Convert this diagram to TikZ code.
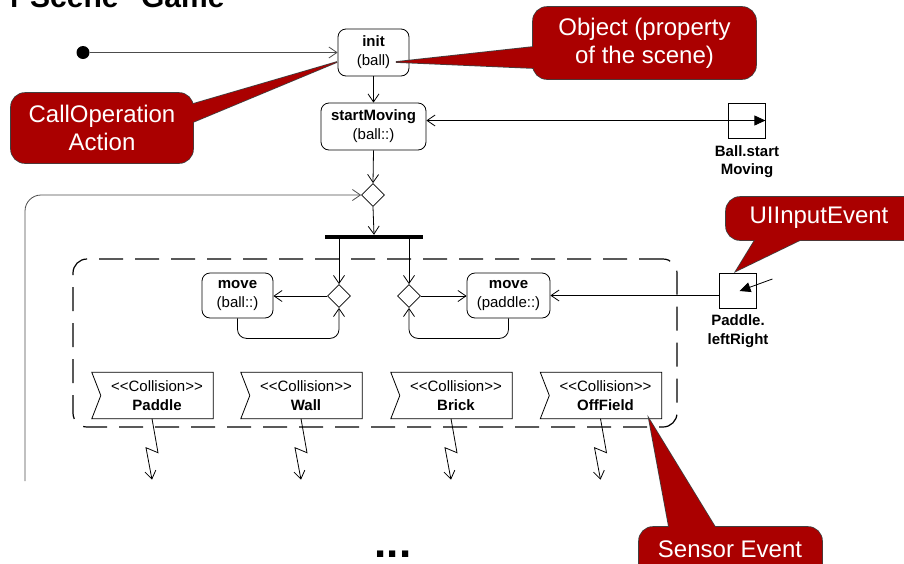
\documentclass[tikz,border=0pt]{standalone}
\usepackage{fontspec}
\setmainfont{Liberation Sans}[Ligatures=TeXOff]
\usetikzlibrary{arrows.meta,shapes.geometric,calc}
\definecolor{callred}{RGB}{170,0,0}
\begin{document}
\begin{tikzpicture}[x=1pt,y=-1pt,
  every node/.style={inner sep=0pt},
  action/.style={draw, rounded corners=8pt, line width=0.8pt, align=center,
    font=\fontsize{15}{19}\selectfont},
  dec/.style={draw, diamond, minimum width=23, minimum height=23, line width=0.8pt},
  flow/.style={line width=0.8pt, -{Straight Barb[length=8pt,width=11pt]}},
  greyflow/.style={flow, draw=black!70},
  pinbox/.style={draw, line width=0.8pt, minimum width=37, minimum height=35},
  pinlabel/.style={align=center, font=\fontsize{15}{18}\selectfont\bfseries},
  sigbox/.style={minimum width=112, minimum height=46, align=center,
    font=\fontsize{15}{19}\selectfont},
  calloutedge/.style={draw=black!75, line width=1.6pt},
  calloutfill/.style={fill=callred},
  callouttext/.style={text=white, align=center, font=\fontsize{24}{28}\selectfont},
  regionstyle/.style={draw, line width=1.2pt, dash pattern=on 24pt off 12pt, rounded corners=14pt}
]
\useasboundingbox (0,0) rectangle (904,563);

% title (cut at the top)
\node[font=\fontsize{30}{36}\selectfont\bfseries, anchor=base west] (title) at (10,7) {r Scene "Game"};

% nodes
\node[fill=black, circle, minimum size=13] (start) at (83,52.5) {};
\node[action, minimum width=71, minimum height=47] (init) at (373.5,52.5) {\textbf{init}\\(ball)};
\node[action, minimum width=105, minimum height=47] (sm) at (373.5,126.5) {\textbf{startMoving}\\(ball::)};
\node[pinbox] (bp) at (746.5,120.5) {};
\node[pinlabel] (bplabel) at (747,161.5) {Ball.start\\Moving};
\node[dec] (d1) at (373,195) {};
\node[fill=black, minimum width=98, minimum height=4] (bar) at (374,237) {};

\node[regionstyle, minimum width=604, minimum height=168] (region) at (375,343) {};

\node[dec] (dl) at (339,296) {};
\node[dec] (dr) at (409,296) {};
\node[action, minimum width=71, minimum height=45] (mb) at (237.5,295.5) {\textbf{move}\\(ball::)};
\node[action, minimum width=83, minimum height=45] (mp) at (508.5,295.5) {\textbf{move}\\(paddle::)};
\node[pinbox] (pp) at (737.5,290.5) {};
\node[pinlabel, font=\fontsize{15}{19}\selectfont\bfseries] (pplabel) at (738,331.5) {Paddle.\\leftRight};

% signals (accept event)
\node[sigbox] (s1) at (157,395.5) {<<Collision>>\\\textbf{Paddle}};
\node[sigbox] (s2) at (306,395.5) {<<Collision>>\\\textbf{Wall}};
\node[sigbox] (s3) at (456,395.5) {<<Collision>>\\\textbf{Brick}};
\node[sigbox] (s4) at (605.5,395.5) {<<Collision>>\\\textbf{OffField}};
\foreach \s in {s1,s2,s3,s4}{
  \draw[line width=0.8pt] ($(\s.north west)+(-9,0)$) -- (\s.north east) -- (\s.south east)
     -- ($(\s.south west)+(-9,0)$) -- (\s.west) -- cycle;
  \draw[flow] ($(\s.south)+(-5,0)$) -- ++(6,34) -- ++(-12,-5) -- ++(6,32);
}

% connectors
\draw[greyflow] (start) -- (init.west);
\draw[flow] (init.south) -- (sm.north);
\draw[flow] (bp.west) -- (bp.west -| sm.east);
\draw[line width=0.8pt, -{Triangle[length=11pt,width=10pt]}] (bp.west) -- (bp.east);
\draw[flow] (sm.south) -- (d1.north);
\coordinate (loopstart) at (25,481);
\draw[greyflow, rounded corners=16pt] (loopstart) -- (loopstart |- d1.west) -- (d1.west);
\draw[flow] (d1.south) -- (bar.north);
\draw[flow] (bar.south -| dl.north) -- (dl.north);
\draw[flow] (bar.south -| dr.north) -- (dr.north);
\draw[flow] (dl.west) -- (dl.west -| mb.east);
\draw[flow] (dr.east) -- (dr.east -| mp.west);
\draw[flow, rounded corners=9pt] (mb.south) -- ++(0,20) -| (dl.south);
\draw[flow, rounded corners=9pt] (mp.south) -- ++(0,20) -| (dr.south);
\draw[flow] (mp.east -| pp.west) -- (mp.east);
\draw[line width=0.8pt, -{Triangle[length=11pt,width=10pt]}] ($(pp.east)+(16,-11.5)$) -- ($(pp.center)+(2,0.5)$);

% "..."
\node[font=\fontsize{44}{44}\selectfont\bfseries, anchor=base] (dots) at (393,557) {...};

% callouts
\path[calloutedge, rounded corners=14pt] (533,7) rectangle (756,79);
\path[calloutedge] (533,47) -- (396,62) -- (533,68) -- cycle;
\path[calloutfill, rounded corners=14pt] (533,7) rectangle (756,79);
\path[calloutfill] (533,47) -- (396,62) -- (533,68) -- cycle;
\node[callouttext] (objtext) at (644.5,43) {Object (property\\of the scene)};

\path[calloutedge, rounded corners=14pt] (11,93) rectangle (193,163);
\path[calloutedge] (193,104) -- (337,62) -- (193,122) -- cycle;
\path[calloutfill, rounded corners=14pt] (11,93) rectangle (193,163);
\path[calloutfill] (193,104) -- (337,62) -- (193,122) -- cycle;
\node[callouttext] (coptext) at (102,128) {CallOperation\\Action};

\path[calloutedge, rounded corners=14pt] (726,197) rectangle (920,240);
\path[calloutedge] (755,240) -- (736,271) -- (800,240) -- cycle;
\path[calloutfill, rounded corners=14pt] (726,197) rectangle (920,240);
\path[calloutfill] (755,240) -- (736,271) -- (800,240) -- cycle;
\node[callouttext] (uitext) at (819,218) {UIInputEvent};

\path[calloutedge, rounded corners=14pt] (639,527) rectangle (822,585);
\path[calloutedge] (669,527) -- (649,419) -- (715,527) -- cycle;
\path[calloutfill, rounded corners=14pt] (639,527) rectangle (822,585);
\path[calloutfill] (669,527) -- (649,419) -- (715,527) -- cycle;
\node[callouttext] (senstext) at (730,549) {Sensor Event};
\end{tikzpicture}
\end{document}
